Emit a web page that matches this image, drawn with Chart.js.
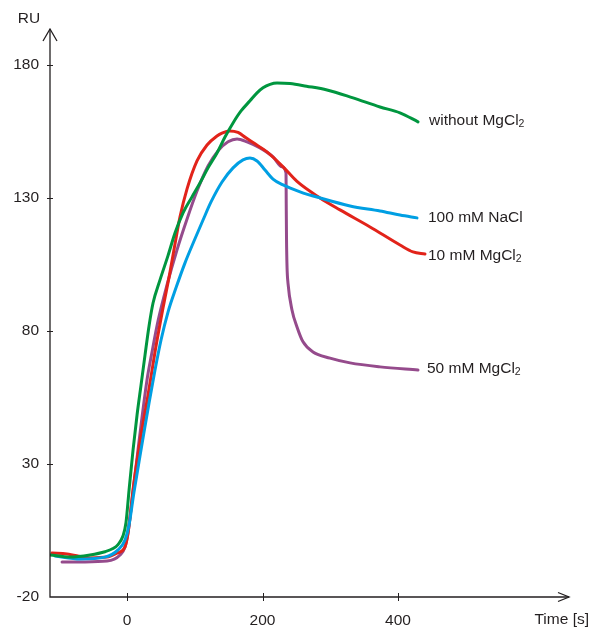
<!DOCTYPE html>
<html>
<head>
<meta charset="utf-8">
<script src="https://cdn.jsdelivr.net/npm/chart.js@4.4.1/dist/chart.umd.min.js"></script>
<style>
  html, body { margin: 0; padding: 0; background: #ffffff; }
  #wrap { width: 593px; height: 635px; }
</style>
</head>
<body>
<div id="wrap"><canvas id="c" width="593" height="635"></canvas></div>
<script>
// ---- data (time in s, response in RU) ----
const yTicks = [-20, 30, 80, 130, 180];
const xTicks = [0, 200, 400];
const seriesNames = ["without MgCl", "100 mM NaCl", "10 mM MgCl", "50 mM MgCl"];
const seriesSubs = ["2", "", "2", "2"];

const withoutMgX = [-113.7, -84.1, -54.6, -32.5, -20.7, -13.3, -5.9, -1.5, 3.0, 8.9, 14.8, 20.7, 26.6, 32.5, 38.4, 48.7, 60.5, 70.8, 82.7, 95.9, 107.7, 119.6, 132.8, 144.6, 156.5, 168.3, 181.5, 191.9, 200.7, 211.1, 221.4, 240.6, 265.0, 295.2, 333.6, 373.4, 402.9, 429.5];
const withoutMgY = [-4.2, -5.0, -4.2, -3.0, -1.8, -0.3, 3.0, 8.0, 20.2, 35.3, 48.4, 59.7, 71.0, 81.9, 90.5, 99.2, 108.3, 116.8, 124.4, 130.4, 135.6, 141.3, 146.9, 152.9, 158.2, 162.7, 166.5, 169.5, 171.4, 172.7, 173.2, 173.0, 172.0, 170.6, 167.6, 164.2, 162.0, 158.6];

const naclX = [-106.3, -69.4, -32.5, -13.3, -3.0, 3.0, 10.3, 17.7, 25.1, 32.5, 41.3, 50.2, 60.5, 72.3, 85.6, 98.9, 112.2, 124.0, 140.2, 156.5, 171.2, 181.5, 191.9, 203.7, 215.5, 230.3, 255.4, 284.9, 329.2, 373.4, 403.0, 428.0];
const naclY = [-4.6, -5.7, -5.0, -2.3, 1.4, 7.1, 19.5, 30.8, 42.0, 52.9, 65.3, 76.6, 87.1, 96.2, 105.6, 113.8, 121.7, 128.5, 136.0, 141.3, 144.3, 145.0, 143.9, 140.5, 137.1, 134.9, 132.3, 130.0, 127.0, 125.1, 123.6, 122.5];

const mg10X = [-110.7, -88.6, -54.6, -29.5, -14.8, -3.0, 1.5, 10.3, 20.7, 31.0, 41.3, 53.1, 63.5, 70.8, 78.2, 88.6, 103.3, 118.1, 132.8, 140.2, 152.0, 163.8, 175.6, 186.0, 206.6, 230.3, 250.9, 284.9, 314.4, 358.7, 403.0, 422.1, 439.8];
const mg10Y = [-3.5, -3.8, -5.3, -5.0, -3.5, -1.2, 4.1, 23.2, 40.9, 55.9, 72.1, 88.6, 102.2, 112.7, 122.9, 133.4, 143.9, 149.9, 153.3, 154.4, 155.2, 154.6, 152.6, 150.8, 147.3, 141.7, 136.2, 130.0, 125.5, 119.1, 112.3, 109.7, 108.9];

const mg50X = [-95.9, -62.0, -29.5, -10.3, -3.0, 1.5, 7.4, 16.2, 29.5, 36.9, 45.8, 59.0, 73.8, 88.6, 103.3, 119.6, 134.3, 149.1, 162.4, 177.1, 196.3, 215.5, 228.8, 234.7, 235.0, 235.4, 236.2, 237.6, 243.5, 250.9, 259.8, 274.5, 299.6, 329.2, 373.4, 429.5];
const mg50Y = [-6.8, -6.8, -6.5, -4.2, -1.2, 4.1, 16.5, 35.3, 61.6, 72.1, 83.8, 97.3, 110.5, 122.1, 132.6, 142.0, 147.7, 151.1, 152.2, 151.1, 148.8, 145.4, 141.7, 139.4, 128.0, 115.0, 104.0, 98.0, 87.9, 81.5, 75.9, 72.1, 69.8, 68.0, 66.5, 65.3];

// ---- styles ----
const colors = ["#00963f", "#009fe3", "#e2231a", "#954b8c"];
const labelDx = [11, 11, 3, 9];
const labelDy = [-1, 0, 2, -1];
const ink = "#231f20";
const FONT = "Liberation Sans, Arial, Helvetica, sans-serif";

function pts(xs, ys) { return xs.map((x, i) => ({ x: x, y: ys[i] })); }

const datasets = [
  [withoutMgX, withoutMgY], [naclX, naclY], [mg10X, mg10Y], [mg50X, mg50Y]
].map((s, i) => ({
  label: seriesNames[i] + seriesSubs[i],
  data: pts(s[0], s[1]),
  borderColor: colors[i],
  backgroundColor: colors[i],
  borderWidth: 3,
  pointRadius: 0,
  cubicInterpolationMode: 'monotone',
  fill: false,
  borderCapStyle: 'round',
  borderJoinStyle: 'round'
}));

const axesPlugin = {
  id: 'axesPlugin',
  afterDatasetsDraw(chart) {
    const ctx = chart.ctx;
    const a = chart.chartArea;
    const xs = chart.scales.x, ys = chart.scales.y;
    ctx.save();
    ctx.strokeStyle = ink;
    ctx.lineWidth = 1.3;
    ctx.lineCap = 'butt';
    ctx.beginPath();
    ctx.moveTo(a.left, a.top);
    ctx.lineTo(a.left, a.bottom);
    ctx.lineTo(a.right, a.bottom);
    ctx.stroke();
    ctx.beginPath();
    ctx.moveTo(a.left - 7, a.top + 12);
    ctx.lineTo(a.left, a.top);
    ctx.lineTo(a.left + 7, a.top + 12);
    ctx.moveTo(a.right - 11, a.bottom - 4.5);
    ctx.lineTo(a.right, a.bottom);
    ctx.lineTo(a.right - 11, a.bottom + 4.5);
    ctx.stroke();
    ctx.lineWidth = 1;
    ctx.beginPath();
    yTicks.forEach(v => {
      if (v === ys.min) return;
      const y = Math.round(ys.getPixelForValue(v)) + 0.5;
      ctx.moveTo(a.left - 3, y); ctx.lineTo(a.left + 3, y);
    });
    xTicks.forEach(v => {
      const x = Math.round(xs.getPixelForValue(v)) + 0.5;
      ctx.moveTo(x, a.bottom - 4); ctx.lineTo(x, a.bottom + 4);
    });
    ctx.stroke();
    ctx.fillStyle = ink;
    ctx.font = "15.5px " + FONT;
    ctx.textBaseline = 'middle';
    ctx.textAlign = 'center';
    ctx.fillText("RU", 29, 19);
    ctx.textAlign = 'right';
    ctx.fillText("Time [s]", 589, 620);
    ctx.textAlign = 'left';
    chart.data.datasets.forEach((ds, i) => {
      const meta = chart.getDatasetMeta(i);
      const last = meta.data[meta.data.length - 1];
      const x = last.x + labelDx[i];
      const y = last.y + labelDy[i];
      ctx.font = "15.5px " + FONT;
      ctx.textBaseline = 'middle';
      ctx.fillText(seriesNames[i], x, y);
      if (seriesSubs[i]) {
        const w = ctx.measureText(seriesNames[i]).width;
        ctx.font = "10.5px " + FONT;
        ctx.fillText(seriesSubs[i], x + w, y + 3);
      }
    });
    ctx.restore();
  }
};

new Chart(document.getElementById('c'), {
  type: 'line',
  data: { datasets: datasets },
  options: {
    responsive: false,
    devicePixelRatio: 1,
    animation: false,
    layout: { padding: { left: 0, top: 29, right: 24, bottom: 0 } },
    plugins: { legend: { display: false }, tooltip: { enabled: false } },
    scales: {
      x: {
        type: 'linear',
        min: -113.7,
        max: 652.4,
        afterBuildTicks: s => { s.ticks = xTicks.map(v => ({ value: v })); },
        afterFit: s => { s.height = 38; },
        grid: { display: false, drawTicks: false },
        border: { display: false },
        ticks: { color: ink, font: { size: 15.5, family: FONT }, padding: 14, maxRotation: 0, autoSkip: false }
      },
      y: {
        type: 'linear',
        min: -20,
        max: 193.5,
        afterBuildTicks: s => { s.ticks = yTicks.map(v => ({ value: v })); },
        afterFit: s => { s.width = 50; },
        grid: { display: false, drawTicks: false },
        border: { display: false },
        ticks: { color: ink, font: { size: 15.5, family: FONT }, padding: 11, autoSkip: false }
      }
    }
  },
  plugins: [axesPlugin]
});
</script>
</body>
</html>
